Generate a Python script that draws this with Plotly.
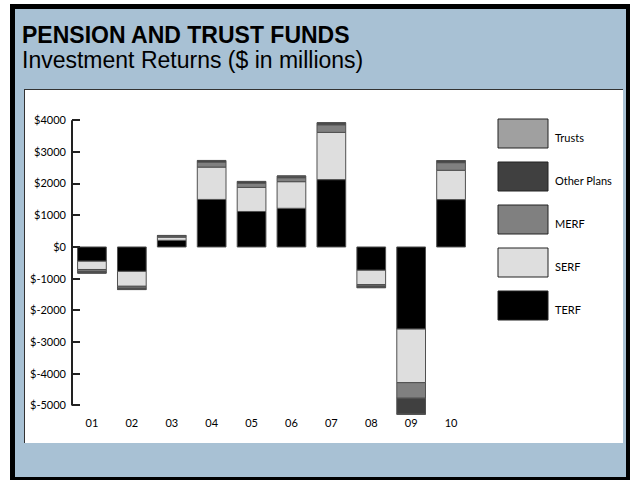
import plotly.graph_objects as go

# ---------------- data ----------------
years = ["01", "02", "03", "04", "05", "06", "07", "08", "09", "10"]
series_names = ["TERF", "SERF", "MERF", "Other Plans", "Trusts"]
terf = [-450, -770, 210, 1500, 1120, 1220, 2125, -735, -2590, 1495]
serf = [-260, -470, 100, 1020, 760, 840, 1490, -450, -1690, 925]
merf = [-60, -60, 40, 160, 135, 125, 240, -50, -490, 240]
other_plans = [-50, -40, 10, 45, 50, 50, 60, -45, -500, 60]
trusts = [-5, -5, 5, 5, 5, 5, 5, -5, -10, 5]
series_values = [terf, serf, merf, other_plans, trusts]
series_colors = ["#000000", "#dedede", "#808080", "#404040", "#a0a0a0"]
y_tickvals = [4000, 3000, 2000, 1000, 0, -1000, -2000, -3000, -4000, -5000]
y_ticktext = ["$4000", "$3000", "$2000", "$1000", "$0", "$-1000", "$-2000",
              "$-3000", "$-4000", "$-5000"]
title_text = "PENSION AND TRUST FUNDS"
subtitle_text = "Investment Returns ($ in millions)"

# ---------------- layout geometry ----------------
W, H = 631, 480
ML, MR, MT, MB = 72, 160, 117, 65
PW, PH = W - ML - MR, H - MT - MB
y_range = [-5300, 4100]
CHART_FONT = "Lato"


def px(x):
    return (x - ML) / PW


def py(y):
    return (H - MB - y) / PH


fig = go.Figure()
for name, vals, col in zip(series_names, series_values, series_colors):
    fig.add_trace(go.Bar(
        x=years, y=vals, name=name, xaxis="x", yaxis="y",
        marker=dict(color=col, line=dict(color="#505050", width=1)),
        showlegend=False,
    ))

shapes = [
    # outer black frame, blue panel, white chart box
    dict(type="rect", xref="paper", yref="paper", x0=px(10), x1=px(630), y0=py(4), y1=py(480),
         fillcolor="#000000", line=dict(width=0), layer="below"),
    dict(type="rect", xref="paper", yref="paper", x0=px(15), x1=px(626), y0=py(9), y1=py(477),
         fillcolor="#a8c1d4", line=dict(width=0), layer="below"),
    dict(type="rect", xref="paper", yref="paper", x0=px(24), x1=px(623), y0=py(89), y1=py(443),
         fillcolor="#ffffff", line=dict(width=0), layer="below"),
    dict(type="line", xref="paper", yref="paper", x0=px(24), x1=px(623), y0=py(89.5), y1=py(89.5),
         line=dict(color="#333333", width=1), layer="below"),
    dict(type="line", xref="paper", yref="paper", x0=px(24.5), x1=px(24.5), y0=py(89), y1=py(443),
         line=dict(color="#333333", width=1), layer="below"),
    # y axis line between first and last tick
    dict(type="line", xref="x domain", yref="y", x0=0, x1=0, y0=min(y_tickvals), y1=max(y_tickvals),
         line=dict(color="#222222", width=2), layer="above"),
]

annotations = [
    dict(text="<b>" + title_text + "</b>", xref="paper", yref="paper", x=px(20), y=py(35),
         xanchor="left", yanchor="middle", showarrow=False,
         font=dict(family="Liberation Sans, Arial", size=23, color="#000000")),
    dict(text=subtitle_text, xref="paper", yref="paper", x=px(20), y=py(60),
         xanchor="left", yanchor="middle", showarrow=False,
         font=dict(family="Liberation Sans, Arial", size=23, color="#000000")),
]

# custom legend (large swatches), top item = last series
leg_x0, leg_x1 = 498, 548
leg_top, leg_h, leg_step = 119, 29, 43
for i, (name, col) in enumerate(zip(series_names[::-1], series_colors[::-1])):
    top = leg_top + i * leg_step
    shapes.append(dict(type="rect", xref="paper", yref="paper",
                       x0=px(leg_x0), x1=px(leg_x1), y0=py(top), y1=py(top + leg_h),
                       fillcolor=col, line=dict(color="#222222", width=1), layer="above"))
    annotations.append(dict(text=name, xref="paper", yref="paper",
                            x=px(553), y=py(top + leg_h / 2 + 4), xanchor="left", yanchor="middle",
                            showarrow=False, font=dict(family=CHART_FONT, size=11, color="#000000")))

zero_pos = (0 - y_range[0]) / (y_range[1] - y_range[0])

fig.update_layout(
    width=W, height=H,
    margin=dict(l=ML, r=MR, t=MT, b=MB),
    paper_bgcolor="#ffffff",
    plot_bgcolor="rgba(0,0,0,0)",
    barmode="relative",
    bargap=0.28,
    showlegend=False,
    font=dict(family=CHART_FONT, size=11, color="#000000"),
    xaxis=dict(range=[-0.5, 9.5], showline=False, showgrid=False, zeroline=False,
               ticks="", tickfont=dict(family=CHART_FONT, size=11, color="#000000")),
    xaxis2=dict(overlaying="x", anchor="free", position=zero_pos, range=[-0.5, 9.5],
                showline=True, linecolor="#222222", linewidth=2, showgrid=False, zeroline=False,
                ticks="outside", ticklen=6, tickwidth=2, tickcolor="#333333",
                tickmode="array", tickvals=[i - 0.5 for i in range(len(years) + 1)],
                showticklabels=False),
    yaxis=dict(range=y_range, showline=False, showgrid=False, zeroline=False,
               tickmode="array", tickvals=y_tickvals, ticktext=y_ticktext,
               ticks="inside", ticklen=8, tickwidth=2, tickcolor="#222222",
               ticklabelstandoff=5,
               tickfont=dict(family=CHART_FONT, size=11, color="#000000")),
    shapes=shapes,
    annotations=annotations,
)

fig.write_html("out.html", config={"displayModeBar": False},
               post_script="document.body.style.margin='0';")
